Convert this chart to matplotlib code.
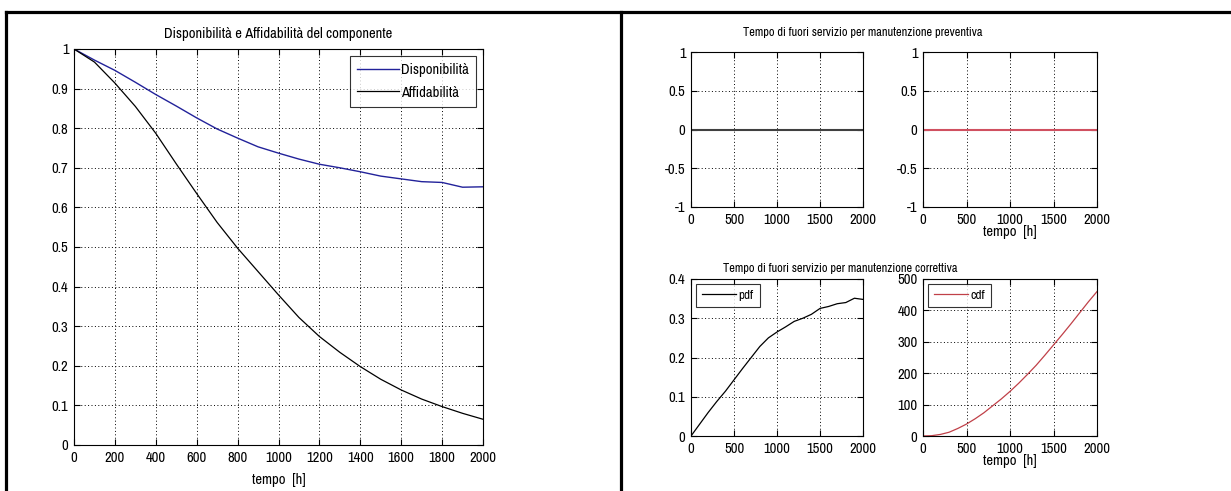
import matplotlib
matplotlib.use("Agg")
import matplotlib.pyplot as plt
from matplotlib.lines import Line2D
from matplotlib import font_manager as fm

names = sorted({f.name for f in fm.fontManager.ttflist})
narrow = [n for n in names if ('Narrow' in n or 'Condensed' in n)]
fam = narrow[:1] + ['Liberation Sans', 'DejaVu Sans']
plt.rcParams['font.family'] = fam

# ---- data ----
t_main = [0, 100, 200, 300, 400, 500, 600, 700, 800, 900, 1000,
          1100, 1200, 1300, 1400, 1500, 1600, 1700, 1800, 1900, 2000]
disponibilita = [1.0, 0.972, 0.946, 0.916, 0.885, 0.856, 0.826, 0.798, 0.775, 0.753, 0.737,
                 0.722, 0.709, 0.700, 0.690, 0.679, 0.672, 0.665, 0.663, 0.651, 0.652]
affidabilita = [1.0, 0.967, 0.914, 0.855, 0.787, 0.710, 0.635, 0.562, 0.497, 0.438, 0.379,
                0.322, 0.274, 0.234, 0.198, 0.166, 0.139, 0.116, 0.097, 0.080, 0.065]

t_small = [0, 2000]
prev_left = [0, 0]
prev_right = [0, 0]

pdf_vals = [0.0, 0.030, 0.060, 0.088, 0.114, 0.143, 0.172, 0.200, 0.228, 0.250, 0.265,
            0.278, 0.292, 0.300, 0.310, 0.325, 0.330, 0.337, 0.340, 0.351, 0.348]
cdf_vals = [0, 1, 5, 12, 24, 38, 55, 74, 96, 118, 142,
            168, 196, 225, 257, 290, 323, 357, 392, 427, 460]

main_xticks = [0, 200, 400, 600, 800, 1000, 1200, 1400, 1600, 1800, 2000]
main_yticks = [0, 0.1, 0.2, 0.3, 0.4, 0.5, 0.6, 0.7, 0.8, 0.9, 1]
main_ylabels = ['0', '0.1', '0.2', '0.3', '0.4', '0.5', '0.6', '0.7', '0.8', '0.9', '1']
small_xticks = [0, 500, 1000, 1500, 2000]
prev_yticks = [-1, -0.5, 0, 0.5, 1]
prev_ylabels = ['-1', '-0.5', '0', '0.5', '1']
pdf_yticks = [0, 0.1, 0.2, 0.3, 0.4]
pdf_ylabels = ['0', '0.1', '0.2', '0.3', '0.4']
cdf_yticks = [0, 100, 200, 300, 400, 500]

W, H = 1231, 491
fig = plt.figure(figsize=(W / 100, H / 100), dpi=100)
fig.patch.set_facecolor('white')

def ax_px(l, r, t, b):
    return fig.add_axes([l / W, (H - b) / H, (r - l) / W, (b - t) / H])

FS = 10.5 if narrow else 9.5
TFS = 8.9 if narrow else 8.0

def style(ax, xt, yt, ylab=None, fs=FS):
    ax.set_xticks(xt)
    ax.set_yticks(yt)
    ax.set_xticklabels([str(v) for v in xt])
    if ylab is not None:
        ax.set_yticklabels(ylab)
    ax.tick_params(direction='in', top=True, right=True, length=4, width=0.8,
                   labelsize=fs, pad=4)
    ax.grid(True, linestyle=(0, (1, 2.5)), color='black', linewidth=0.7)
    for s in ax.spines.values():
        s.set_linewidth(0.8)
        s.set_color('black')

# main chart
ax = ax_px(74, 483, 49, 445)
ax.plot(t_main, disponibilita, color='#22229a', lw=1.0, label='Disponibilità')
ax.plot(t_main, affidabilita, color='black', lw=0.9, label='Affidabilità')
ax.set_xlim(0, 2000)
ax.set_ylim(0, 1)
style(ax, main_xticks, main_yticks, main_ylabels)
ax.set_title('Disponibilità e Affidabilità del componente', fontsize=FS, pad=8)
ax.set_xlabel('tempo  [h]', fontsize=FS, labelpad=6)
leg = ax.legend(loc='upper right', fontsize=FS, frameon=True, fancybox=False,
                edgecolor='black', borderaxespad=0.45, handlelength=2.9,
                handletextpad=0.15, labelspacing=0.6, borderpad=0.5)
leg.get_frame().set_linewidth(0.8)

# top-left small
ax1 = ax_px(691, 863, 52, 207)
ax1.plot(t_small, prev_left, color='#404040', lw=1.5)
ax1.set_xlim(0, 2000)
ax1.set_ylim(-1, 1)
style(ax1, small_xticks, prev_yticks, prev_ylabels)

# top-right small
ax2 = ax_px(923, 1097, 52, 207)
ax2.plot(t_small, prev_right, color='#d05060', lw=1.5)
ax2.set_xlim(0, 2000)
ax2.set_ylim(-1, 1)
style(ax2, small_xticks, prev_yticks, prev_ylabels)
ax2.set_xlabel('tempo  [h]', fontsize=FS, labelpad=-1)

# bottom-left pdf
ax3 = ax_px(691, 863, 279, 436)
ax3.plot(t_main, pdf_vals, color='black', lw=0.9, label='pdf')
ax3.set_xlim(0, 2000)
ax3.set_ylim(0, 0.4)
style(ax3, small_xticks, pdf_yticks, pdf_ylabels)
l3 = ax3.legend(loc='upper left', fontsize=FS - 1, frameon=True, fancybox=False,
                edgecolor='black', borderaxespad=0.35, handlelength=2.6,
                handletextpad=0.2, borderpad=0.45)
l3.get_frame().set_linewidth(0.8)

# bottom-right cdf
ax4 = ax_px(923, 1097, 279, 436)
ax4.plot(t_main, cdf_vals, color='#c04048', lw=0.9, label='cdf')
ax4.set_xlim(0, 2000)
ax4.set_ylim(0, 500)
style(ax4, small_xticks, cdf_yticks)
ax4.set_xlabel('tempo  [h]', fontsize=FS, labelpad=-1)
l4 = ax4.legend(loc='upper left', fontsize=FS - 1, frameon=True, fancybox=False,
                edgecolor='black', borderaxespad=0.35, handlelength=2.6,
                handletextpad=0.2, borderpad=0.45)
l4.get_frame().set_linewidth(0.8)

# panel titles
fig.text(863 / W, 1 - 32 / H, 'Tempo di fuori servizio per manutenzione preventiva',
         ha='center', va='center', fontsize=TFS)
fig.text(840 / W, 1 - 268 / H, 'Tempo di fuori servizio per manutenzione correttiva',
         ha='center', va='center', fontsize=TFS)

# table borders
for (x0, y0, x1, y1) in [(6, 12, W, 12), (6, 12, 6, H), (621, 12, 621, H)]:
    fig.add_artist(Line2D([x0 / W, x1 / W], [1 - y0 / H, 1 - y1 / H],
                          transform=fig.transFigure, color='black', lw=2.3))

fig.savefig('out.png', dpi=100)
